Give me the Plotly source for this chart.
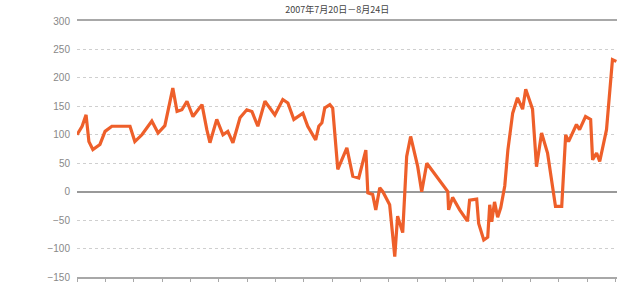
import plotly.graph_objects as go

# Position along the period (tick units) and spread value
x_pos = [0.00, 0.18, 0.32, 0.42, 0.56, 0.81, 0.99, 1.23, 1.87, 2.04, 2.29, 2.64, 2.86, 3.10,
         3.38, 3.53, 3.70, 3.88, 4.09, 4.41, 4.58, 4.69, 4.93, 5.15, 5.32, 5.50, 5.75, 5.99,
         6.17, 6.38, 6.63, 6.98, 7.26, 7.44, 7.65, 7.97, 8.14, 8.42, 8.53, 8.64, 8.74, 8.92,
         9.02, 9.20, 9.52, 9.73, 9.94, 10.19, 10.26, 10.43, 10.54, 10.68, 10.79, 11.03, 11.21,
         11.31, 11.49, 11.63, 11.77, 12.02, 12.16, 12.34, 13.08, 13.11, 13.25, 13.50, 13.75,
         13.78, 13.85, 14.10, 14.17, 14.35, 14.49, 14.56, 14.63, 14.73, 14.84, 14.95, 15.09,
         15.20, 15.37, 15.54, 15.72, 15.83, 16.07, 16.21, 16.39, 16.60, 16.88, 17.10, 17.24,
         17.34, 17.62, 17.73, 17.94, 18.12, 18.19, 18.33, 18.44, 18.68, 18.89, 19.03]
values = [100, 115, 135, 88, 74, 83, 106, 115, 115, 88, 100, 124, 103, 116,
          182, 141, 144, 159, 132, 153, 109, 86, 127, 100, 106, 86, 130, 144,
          141, 115, 159, 135, 162, 156, 127, 138, 115, 91, 115, 121, 147, 153,
          147, 39, 77, 27, 24, 73, -2, -5, -32, 7, 0, -23, -114,
          -43, -72, 62, 97, 44, 0, 50, 0, -32, -10, -32, -50,
          -50, -15, -13, -56, -85, -80, -23, -53, -18, -45, -28, 10,
          73, 138, 165, 145, 180, 145, 44, 103, 68, -26, -26, 100,
          88, 118, 109, 132, 127, 56, 68, 53, 109, 232, 229]

y_ticks = [-150, -100, -50, 0, 50, 100, 150, 200, 250, 300]
title_text = "2007年7月20日－8月24日"

fig = go.Figure()
fig.add_trace(go.Scatter(
    x=x_pos, y=values, mode="lines",
    line=dict(color="#EE5F2A", width=3.2, shape="linear"),
    hoverinfo="skip", showlegend=False,
))

fig.update_layout(
    width=640, height=285,
    margin=dict(l=77, r=23, t=21, b=8),
    paper_bgcolor="white", plot_bgcolor="white",
    title=dict(text=title_text, x=0.527, xanchor="center", y=0.965, yanchor="middle",
               yref="container",
               font=dict(family="Noto Sans CJK SC", size=9, color="#444")),
    font=dict(family="Liberation Sans", size=10, color="#888"),
)
fig.update_xaxes(
    range=[0, 19.05], dtick=1, tick0=0, showticklabels=False, showgrid=False,
    showline=True, linecolor="#a8a8a8", linewidth=1.5, mirror=True,
    ticks="outside", ticklen=3, tickcolor="#a8a8a8", zeroline=False,
    automargin=False,
)
fig.update_yaxes(
    range=[-150, 300], tickvals=y_ticks, showgrid=True, gridcolor="#cfcfcf",
    griddash="dot", gridwidth=1, zeroline=True, zerolinecolor="#999", zerolinewidth=1.5,
    showline=False, ticks="", ticklabelstandoff=6, automargin=False,
    tickfont=dict(family="Liberation Sans", size=10, color="#888"),
)

fig.write_html("out.html")
